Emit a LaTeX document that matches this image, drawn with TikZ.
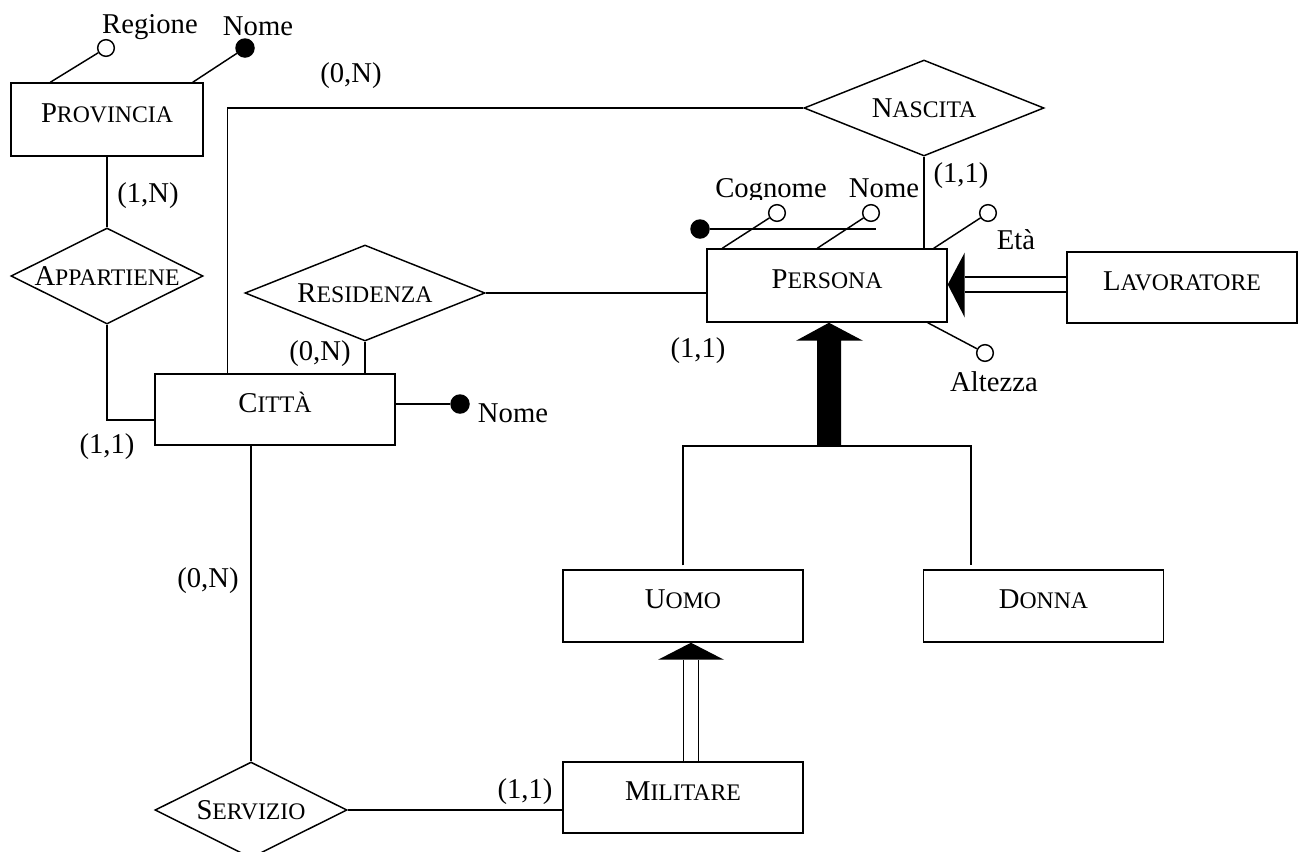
\documentclass[tikz,border=0pt]{standalone}
\usepackage{fontspec}
\setmainfont{Liberation Serif}
\usetikzlibrary{shapes.geometric,calc}
% first letter full size, the rest as small capitals
\newcommand\SCap[2]{#1{\fontsize{17.8pt}{20pt}\selectfont #2}}
\begin{document}
\begin{tikzpicture}[x=0.75pt,y=-0.75pt,
  every node/.style={font=\fontsize{21.5pt}{24pt}\selectfont},
  line width=1.1pt,
  entity/.style={draw, rectangle, inner sep=0pt, minimum width=180pt,
    minimum height=54pt, text height=14pt, text depth=10pt},
  rel/.style={draw, diamond, inner sep=0pt, minimum width=180pt, minimum height=72pt},
  attr/.style={draw, circle, fill=white, inner sep=0pt, minimum size=12.5pt},
  key/.style={draw, circle, fill=black, inner sep=0pt, minimum size=13.5pt},
  lbl/.style={anchor=base, inner sep=0pt},
  dbl/.style={double, double distance=10.4pt},
]
\useasboundingbox (0,0) rectangle (1299,851);

% entities
\node[entity, minimum width=144pt, minimum height=54.75pt] (prov) at (107,119.5) {\SCap{P}{ROVINCIA}};
\node[entity, minimum height=53.25pt] (citta) at (275,409.5) {\SCap{C}{ITTÀ}};
\node[entity, minimum height=54.75pt] (persona) at (827,285.5) {\SCap{P}{ERSONA}};
\node[entity, minimum width=172.5pt, minimum height=53.25pt] (lav) at (1182,287.5) {\SCap{L}{AVORATORE}};
\node[entity] (uomo) at (683,606) {\SCap{U}{OMO}};
\node[entity] (donna) at (1043.5,606) {\SCap{D}{ONNA}};
\node[entity, minimum height=53.25pt] (mil) at (683,797.5) {\SCap{M}{ILITARE}};

% relationships
\node[rel, minimum width=144pt] (app) at (107,276) {\makebox[0pt]{\SCap{A}{PPARTIENE}}};
\node[rel] (res) at (365,293) {\makebox[0pt]{\SCap{R}{ESIDENZA}}};
\node[rel] (nasc) at (924,108) {\makebox[0pt]{\SCap{N}{ASCITA}}};
\node[rel, minimum width=144pt] (serv) at (251,810) {\makebox[0pt]{\SCap{S}{ERVIZIO}}};

% relationship links
\draw (prov) -- (app);
\draw (app.south) |- ($(citta.west)+(0,10.5)$);
\draw ($(citta.north west)+(73,0)$) |- (nasc.west);
\draw (res.south) -- (res.south |- citta.north);
\draw (res.east) -- (res.east -| persona.west);
\draw (nasc.south) -- (nasc.south |- persona.north);
\draw (serv.north |- citta.south) -- (serv.north);
\draw (serv.east) -- (serv.east -| mil.west);

% total generalization of PERSONA
\fill ($(persona.south)+(2,0)$) -- ++(34,18) -- ++(-22,0) -- ++(0,106)
  -- ++(-24,0) -- ++(0,-106) -- ++(-21,0) -- cycle;
\coordinate (gj) at (829,446);
\draw ($(uomo.north)+(0,-4)$) |- (gj) -| ($(donna.north)+(-72.5,-4)$);

% subsets
\fill ($(persona.east)+(0,-1)$) -- ++(17,-32) -- ++(0,65) -- cycle;
\draw[dbl] ($(lav.west)+(0,-3)$) -- ($(persona.east)+(17,-1)$);
\fill ($(uomo.south)+(8,0)$) -- ++(33,17) -- ++(-66,0) -- cycle;
\draw[dbl] ($(mil.north)+(8,0)$) -- ($(uomo.south)+(8,17)$);

% attributes of PROVINCIA
\node[attr] (reg) at (106,48) {};
\draw ($(prov.north west)+(40,0)$) -- (reg);
\node[lbl] (regt) at (150,33) {Regione};
\node[key] (pn) at (245,48) {};
\draw ($(prov.north east)+(-11,0)$) -- (pn);
\node[lbl] (pnt) at (258,35) {Nome};

% attribute of CITTÀ
\node[key] (cn) at (460,404) {};
\draw (cn -| citta.east) -- (cn);
\node[lbl] (cnt) at (513,422) {Nome};

% attributes of PERSONA
\begin{scope}
  \clip (700,150) rectangle (840,199);
  \node[lbl] (cogt) at (771,197) {Cognome};
\end{scope}
\node[lbl] (pnomet) at (884,197) {Nome};
\node[lbl] (etat) at (1016,249) {Età};
\node[lbl] (altt) at (994,391) {Altezza};
\node[key] (pid) at (700,229) {};
\coordinate (pidend) at (876,229);
\draw (pid) -- (pidend);
\node[attr] (cog) at (777,213) {};
\draw ($(persona.north west)+(16,0)$) -- (cog);
\node[attr] (pnome) at (871,213) {};
\draw ($(persona.north west)+(111,0)$) -- (pnome);
\node[attr] (eta) at (988,213) {};
\draw ($(persona.north east)+(-14,0)$) -- (eta);
\node[attr] (alt) at (985,353) {};
\draw ($(persona.south east)+(-20,0)$) -- (alt);

% cardinalities
\node[lbl] (c1) at (351,82) {(0,N)};
\node[lbl] (c2) at (148,202) {(1,N)};
\node[lbl] (c3) at (107,453) {(1,1)};
\node[lbl] (c4) at (320,360) {(0,N)};
\node[lbl] (c5) at (698,357) {(1,1)};
\node[lbl] (c6) at (961,182) {(1,1)};
\node[lbl] (c7) at (208,587) {(0,N)};
\node[lbl] (c8) at (525,798) {(1,1)};
\end{tikzpicture}
\end{document}
